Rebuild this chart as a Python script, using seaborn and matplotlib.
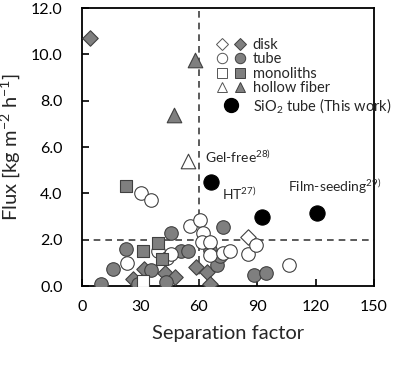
import matplotlib
matplotlib.use("Agg")
import matplotlib.pyplot as plt
from matplotlib.lines import Line2D
from matplotlib.legend_handler import HandlerTuple
import seaborn as sns
import pandas as pd

# ---- data ----
disk_open_x = [85.5]
disk_open_y = [2.1]
disk_fill_x = [4, 26, 32, 42.5, 48, 58.5, 64, 65.5]
disk_fill_y = [10.7, 0.3, 0.75, 0.55, 0.4, 0.82, 0.6, 0.08]
tube_open_x = [30.3, 35.3, 23.3, 39.2, 43.5, 45.5, 55.5, 60.6, 62.3, 61.5,
               65.7, 65.7, 72.6, 76.0, 85.4, 89.4, 106.5]
tube_open_y = [4.0, 3.7, 0.98, 1.5, 1.2, 1.4, 2.6, 2.85, 2.27, 1.91,
               1.91, 1.34, 1.41, 1.5, 1.37, 1.77, 0.9]
tube_fill_x = [10, 16, 22.5, 29, 35.5, 43, 45.5, 51, 54.5, 65.7, 69.2, 71, 72.5, 88.5, 94.5]
tube_fill_y = [0.08, 0.72, 1.58, 0.08, 0.7, 0.19, 2.28, 1.5, 1.5, 1.55, 0.92, 1.3, 2.53, 0.47, 0.58]
mono_open_x = [31.3]
mono_open_y = [0.2]
mono_fill_x = [22.5, 31.3, 39.2, 41]
mono_fill_y = [4.3, 1.5, 1.85, 1.15]
hf_open_x = [54.5]
hf_open_y = [5.4]
hf_fill_x = [47.2, 58]
hf_fill_y = [7.4, 9.75]
this_x = [66.5, 92.5, 120.5]
this_y = [4.5, 3.0, 3.15]

x_ticks = [0, 30, 60, 90, 120, 150]
y_ticks = [0, 2, 4, 6, 8, 10, 12]

GRAY = "#7f7f7f"
EDGE = "#404040"

sns.set_style("ticks")
plt.rcParams["font.family"] = ["Lato", "DejaVu Sans"]
plt.rcParams["mathtext.fontset"] = "custom"
plt.rcParams["mathtext.rm"] = "Lato"
plt.rcParams["mathtext.it"] = "Lato:italic"

fig = plt.figure(figsize=(3.97, 3.68), dpi=100)
ax = fig.add_axes([0.2066, 0.2228, 0.7355, 0.755])

groups = [
    (disk_fill_x, disk_fill_y, "D", GRAY, 62),
    (disk_open_x, disk_open_y, "D", "white", 62),
    (tube_fill_x, tube_fill_y, "o", GRAY, 95),
    (tube_open_x, tube_open_y, "o", "white", 95),
    (mono_fill_x, mono_fill_y, "s", GRAY, 75),
    (mono_open_x, mono_open_y, "s", "white", 75),
    (hf_fill_x, hf_fill_y, "^", GRAY, 110),
    (hf_open_x, hf_open_y, "^", "white", 110),
]
for xs, ys, m, fc, s in groups:
    df = pd.DataFrame({"x": xs, "y": ys})
    sns.scatterplot(data=df, x="x", y="y", marker=m, s=s, color=fc,
                    edgecolor=EDGE, linewidth=0.8, ax=ax, zorder=3)
df_this = pd.DataFrame({"x": this_x, "y": this_y})
sns.scatterplot(data=df_this, x="x", y="y", marker="o", s=120, color="black",
                edgecolor="black", linewidth=0.8, ax=ax, zorder=4)

ax.axvline(60, color="#404040", ls=(0, (4, 3)), lw=1.2, zorder=1)
ax.axhline(2, color="#404040", ls=(0, (4, 3)), lw=1.2, zorder=1)

ax.set_xlim(0, 150)
ax.set_ylim(0, 12)
ax.set_xticks(x_ticks)
ax.set_yticks(y_ticks)
ax.set_yticklabels([f"{v:.1f}" for v in y_ticks])
ax.tick_params(direction="in", length=5, width=1.2, labelsize=11.5, colors="black")
ax.tick_params(axis="y", pad=14)
ax.tick_params(axis="x", pad=10)
for sp in ax.spines.values():
    sp.set_visible(True)
    sp.set_linewidth(1.3)
    sp.set_color("black")

ax.set_xlabel("Separation factor", fontsize=14.5, labelpad=8)
ax.set_ylabel("Flux [kg m$^{-2}$ h$^{-1}$]", fontsize=14.5, labelpad=6)

ax.text(63.2, 5.57, "Gel-free$^{28)}$", fontsize=10, va="center", ha="left")
ax.text(80.6, 4.0, "HT$^{27)}$", fontsize=10, va="center", ha="center")
ax.text(106, 4.3, "Film-seeding$^{29)}$", fontsize=10, va="center", ha="left")

def mk(m, fc, ms):
    return Line2D([], [], marker=m, ls="none", markerfacecolor=fc,
                  markeredgecolor=EDGE if fc != "white" else "#555555",
                  markeredgewidth=0.7, markersize=ms)

handles = [
    (mk("D", "white", 6), mk("D", GRAY, 6)),
    (mk("o", "white", 7.5), mk("o", GRAY, 7.5)),
    (mk("s", "white", 6.5), mk("s", GRAY, 6.5)),
    (mk("^", "white", 7.5), mk("^", GRAY, 7.5)),
    Line2D([], [], marker="o", ls="none", markerfacecolor="black",
           markeredgecolor="black", markersize=10),
]
labels = ["disk", "tube", "monoliths", "hollow fiber", "SiO$_2$ tube (This work)"]
leg = ax.legend(handles, labels, handler_map={tuple: HandlerTuple(ndivide=None, pad=0.4)},
                loc="upper left", bbox_to_anchor=(0.44, 0.915), frameon=False,
                fontsize=10.5, handlelength=2.0, handletextpad=0.5,
                labelspacing=0.04, borderaxespad=0)

fig.savefig("out.png", dpi=100)
